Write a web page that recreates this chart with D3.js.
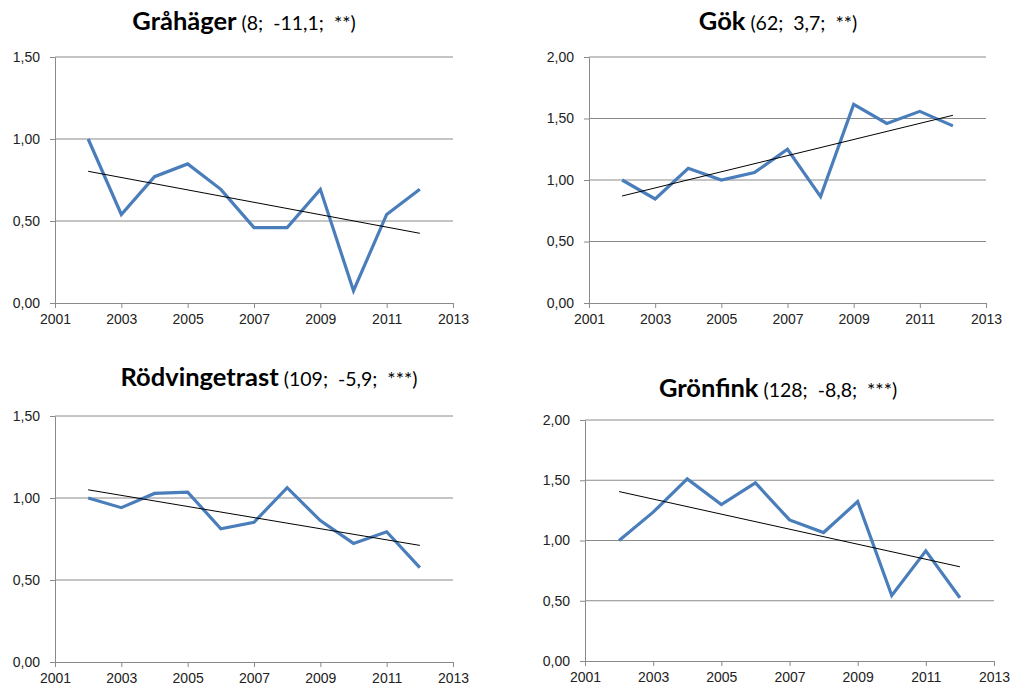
<!DOCTYPE html>
<html>
<head>
<meta charset="utf-8">
<script src="https://cdn.jsdelivr.net/npm/d3@7"></script>
<style>
  body { margin: 0; background: #fff; }
  svg { display: block; font-family: Lato, "Open Sans", sans-serif; }
  .tick text { font-size: 14px; fill: #222; }
</style>
</head>
<body>
<svg id="chart" width="1015" height="689"></svg>
<script>
// data
var years = [2002, 2003, 2004, 2005, 2006, 2007, 2008, 2009, 2010, 2011, 2012];
var xTicks = [2001, 2003, 2005, 2007, 2009, 2011, 2013];

var grahager = [1.00, 0.54, 0.77, 0.848, 0.693, 0.46, 0.46, 0.693, 0.075, 0.54, 0.693];
var gok = [1.00, 0.846, 1.095, 1.00, 1.06, 1.25, 0.865, 1.615, 1.46, 1.558, 1.44];
var rodvingetrast = [1.00, 0.941, 1.028, 1.036, 0.812, 0.852, 1.063, 0.862, 0.723, 0.794, 0.575];
var gronfink = [1.00, 1.235, 1.511, 1.298, 1.478, 1.171, 1.066, 1.323, 0.544, 0.914, 0.525];

// trend line end values (2002, 2012)
var grahagerTrend = [0.803, 0.425];
var gokTrend = [0.87, 1.526];
var rodvingetrastTrend = [1.05, 0.711];
var gronfinkTrend = [1.406, 0.782];

var names = ["Gråhäger", "Gök", "Rödvingetrast", "Grönfink"];
var notes = ["(8;  -11,1;  **)", "(62;  3,7;  **)", "(109;  -5,9;  ***)", "(128;  -8,8;  ***)"];
var yTicks15 = [0, 0.5, 1.0, 1.5];
var yTicks20 = [0, 0.5, 1.0, 1.5, 2.0];

var panels = [
  {values: grahager, trend: grahagerTrend, yTicks: yTicks15, left: 55, right: 453, top: 57, bottom: 303, titleX: 244, titleY: 30},
  {values: gok, trend: gokTrend, yTicks: yTicks20, left: 589, right: 986, top: 57, bottom: 303, titleX: 778, titleY: 30},
  {values: rodvingetrast, trend: rodvingetrastTrend, yTicks: yTicks15, left: 55, right: 453, top: 416, bottom: 662, titleX: 269, titleY: 386},
  {values: gronfink, trend: gronfinkTrend, yTicks: yTicks20, left: 585, right: 994, top: 420, bottom: 661, titleX: 778, titleY: 397}
];

var svg = d3.select("#chart");
var fmt = function(d) { return d3.format(".2f")(d).replace(".", ","); };

panels.forEach(function(p, i) {
  var g = svg.append("g");

  var x = d3.scaleLinear().domain([2001, 2013]).range([p.left, p.right]);
  var y = d3.scaleLinear().domain([0, d3.max(p.yTicks)]).range([p.bottom, p.top]);

  // gridlines
  g.selectAll("line.grid")
    .data(p.yTicks.filter(function(d) { return d > 0; }))
    .enter()
    .append("line")
    .attr("x1", p.left)
    .attr("x2", p.right)
    .attr("y1", function(d) { return y(d); })
    .attr("y2", function(d) { return y(d); })
    .attr("stroke", "#8a8a8a")
    .attr("stroke-width", 1);

  // y axis
  var yAxis = g.append("g")
    .attr("transform", "translate(" + p.left + ",0)")
    .call(d3.axisLeft(y).tickValues(p.yTicks).tickFormat(fmt).tickSizeInner(5).tickSizeOuter(0).tickPadding(10));
  yAxis.select(".domain").attr("stroke", "#8a8a8a");
  yAxis.selectAll(".tick line").attr("stroke", "#8a8a8a");

  // x axis
  var xAxis = g.append("g")
    .attr("transform", "translate(0," + p.bottom + ")")
    .call(d3.axisBottom(x).tickValues(xTicks).tickFormat(d3.format("d")).tickSizeInner(5).tickSizeOuter(0).tickPadding(6));
  xAxis.select(".domain").attr("stroke", "#8a8a8a");
  xAxis.selectAll(".tick line").attr("stroke", "#8a8a8a");

  // series line
  var line = d3.line()
    .x(function(d, j) { return x(years[j]); })
    .y(function(d) { return y(d); });
  g.append("path")
    .datum(p.values)
    .attr("d", line)
    .attr("fill", "none")
    .attr("stroke", "#4a7ebb")
    .attr("stroke-width", 3.2)
    .attr("stroke-linejoin", "miter");

  // trend line
  g.append("line")
    .attr("x1", x(years[0]))
    .attr("x2", x(years[years.length - 1]))
    .attr("y1", y(p.trend[0]))
    .attr("y2", y(p.trend[1]))
    .attr("stroke", "#000")
    .attr("stroke-width", 1);

  // title
  var t = g.append("text")
    .attr("x", p.titleX)
    .attr("y", p.titleY)
    .attr("text-anchor", "middle")
    .style("white-space", "pre")
    .attr("fill", "#000");
  t.append("tspan").text(names[i]).style("font-weight", "bold").style("font-size", "25.5px");
  t.append("tspan").text(" " + notes[i]).style("font-size", "19.5px");
});
</script>
</body>
</html>
